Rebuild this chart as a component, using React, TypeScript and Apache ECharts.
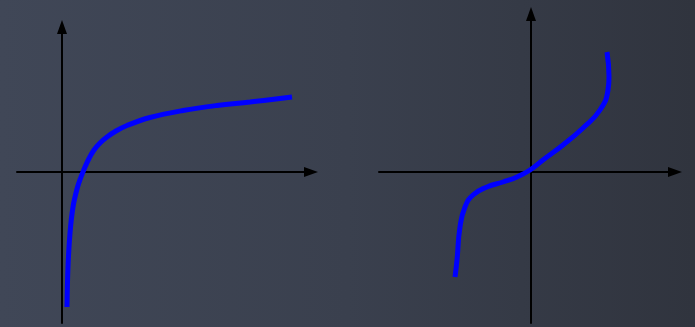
import React, { useEffect, useRef } from "react";
import * as echarts from "echarts";

// Logarithm-like curve (left panel)
const logX = [0.1, 0.12, 0.16, 0.22, 0.3, 0.38, 0.46, 0.54, 0.64, 0.76, 0.9, 1.08, 1.3, 1.76, 2.42, 3.1, 3.76, 4.6];
const logY = [-2.7, -1.9, -1.22, -0.7, -0.34, -0.1, 0.1, 0.27, 0.44, 0.58, 0.7, 0.82, 0.93, 1.09, 1.23, 1.33, 1.4, 1.5];

// S-shaped curve through the origin (right panel)
const sX = [-1.52, -1.48, -1.42, -1.32, -1.16, -0.88, -0.56, -0.28, -0.02, 0.24, 0.64, 1.04, 1.38, 1.54, 1.56, 1.52];
const sY = [-2.1, -1.76, -1.1, -0.7, -0.46, -0.3, -0.2, -0.1, 0.04, 0.24, 0.54, 0.88, 1.24, 1.64, 1.9, 2.4];

const pair = (xs: number[], ys: number[]) => xs.map((x, i) => [x, ys[i]]);

const axisBase = (gridIndex: number, min: number, max: number) => ({
  type: "value" as const,
  gridIndex,
  min,
  max,
  axisLine: {
    show: true,
    onZero: true,
    symbol: ["none", "triangle"],
    symbolSize: [10, 14],
    lineStyle: { color: "#000000", width: 2 },
  },
  axisTick: { show: false },
  axisLabel: { show: false },
  splitLine: { show: false },
});

export default function App() {
  const ref = useRef<HTMLDivElement>(null);

  useEffect(() => {
    if (!ref.current) return;
    const chart = echarts.init(ref.current, undefined, { renderer: "svg" });
    chart.setOption({
      animation: false,
      backgroundColor: "transparent",
      grid: [
        { left: 17, top: 27, width: 294, height: 296 },
        { left: 379, top: 14, width: 296, height: 309 },
      ],
      xAxis: [axisBase(0, -0.9, 4.98), axisBase(1, -3.04, 2.88)],
      yAxis: [axisBase(0, -3.02, 2.9), axisBase(1, -3.02, 3.16)],
      series: [
        {
          type: "line",
          xAxisIndex: 0,
          yAxisIndex: 0,
          data: pair(logX, logY),
          smooth: 0.4,
          showSymbol: false,
          lineStyle: { color: "#0000ff", width: 5, cap: "butt" },
        },
        {
          type: "line",
          xAxisIndex: 1,
          yAxisIndex: 1,
          data: pair(sX, sY),
          smooth: 0.5,
          showSymbol: false,
          lineStyle: { color: "#0000ff", width: 5, cap: "butt" },
        },
      ],
    });
    return () => chart.dispose();
  }, []);

  return (
    <div
      style={{
        position: "fixed",
        left: 0,
        top: 0,
        width: 695,
        height: 327,
        background: "linear-gradient(to right, #404757 0%, #3a404e 50%, #30343e 100%)",
      }}
    >
      <div ref={ref} style={{ width: 695, height: 327 }} />
    </div>
  );
}
